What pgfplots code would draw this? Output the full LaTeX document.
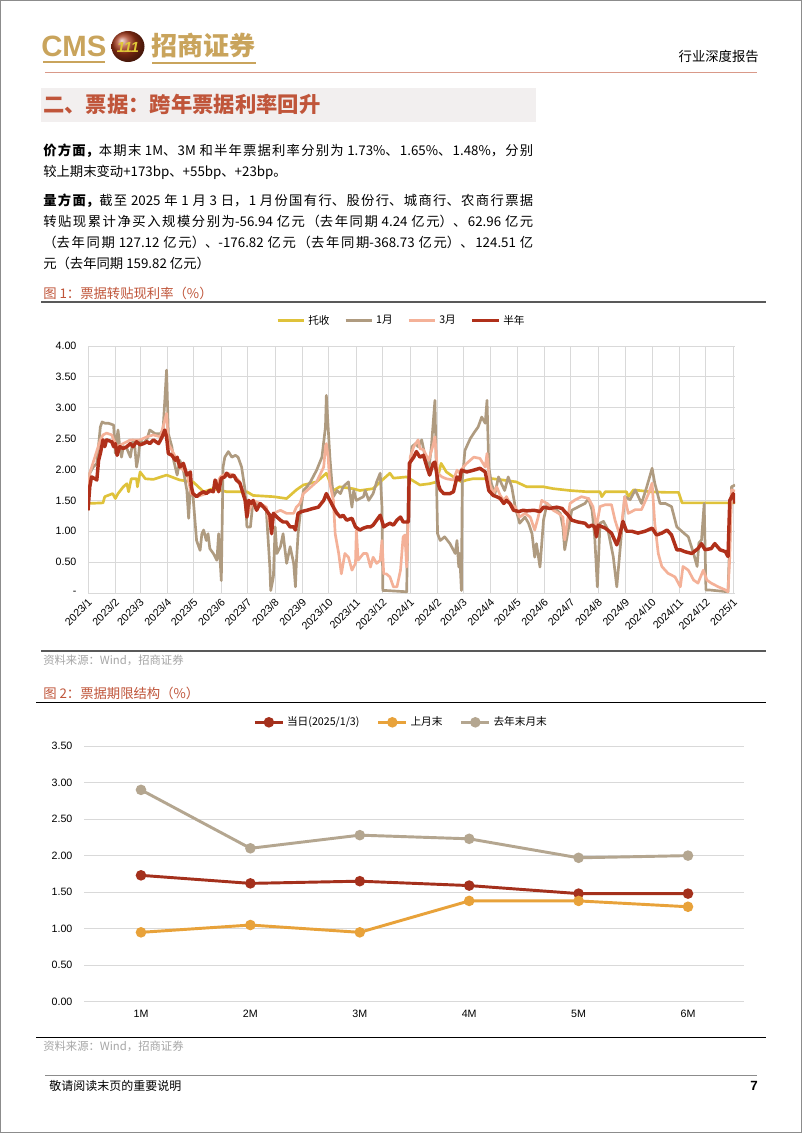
\documentclass[border=0pt]{standalone}
\usepackage{fontspec}
\setmainfont{Liberation Sans}
\newfontfamily\cjk{Noto Sans CJK SC}
\usepackage{pgfplots}
\pgfplotsset{compat=1.18}
\usepackage{pgfplotstable}

\definecolor{cGold}{HTML}{C9A45C}
\definecolor{cTitle}{HTML}{C0553A}
\definecolor{cBox}{HTML}{F2EFEF}
\definecolor{cYel}{HTML}{DFC23A}
\definecolor{cTan}{HTML}{AF9B80}
\definecolor{cSal}{HTML}{F4B198}
\definecolor{cRed}{HTML}{B0301A}
\definecolor{dRed}{HTML}{A4301C}
\definecolor{dOra}{HTML}{E8A23A}
\definecolor{dTan}{HTML}{B4A690}
\definecolor{cGrid}{HTML}{D9D9D9}
\definecolor{cLogo}{HTML}{C2401C}

% days since 2023-01-01, rate (%)
\pgfplotstableread[row sep=\\]{d v\\0 1.45\\17 1.46\\19 1.56\\28 1.61\\31 1.53\\34 1.61\\40 1.72\\44 1.77\\46 1.64\\49 1.85\\55 1.85\\56 1.72\\59 1.96\\65 1.85\\74 1.84\\89 1.91\\104 1.83\\119 1.80\\131 1.64\\142 1.69\\157 1.64\\180 1.64\\187 1.58\\210 1.56\\225 1.53\\236 1.67\\244 1.75\\259 1.80\\270 1.94\\278 1.66\\285 1.72\\300 1.69\\308 1.66\\323 1.69\\331 1.80\\342 1.94\\346 1.86\\361 1.88\\376 1.75\\387 1.77\\395 1.80\\400 2.10\\406 1.96\\414 1.88\\423 1.80\\429 1.83\\436 1.85\\459 1.85\\470 1.83\\485 1.80\\497 1.72\\516 1.72\\527 1.69\\546 1.66\\565 1.64\\580 1.64\\582 1.56\\586 1.64\\610 1.64\\612 1.56\\618 1.67\\637 1.64\\655 1.63\\669 1.63\\673 1.46\\733 1.46\\}\tYel

\pgfplotstableread[row sep=\\]{d v\\0 1.34\\2 1.94\\6 2.04\\10 2.10\\14 2.69\\16 2.77\\19 2.75\\23 2.75\\29 2.72\\31 2.26\\33 2.53\\34 2.64\\36 2.37\\38 2.20\\40 2.37\\44 2.34\\48 2.20\\51 2.48\\53 2.37\\55 2.04\\57 2.20\\59 2.48\\63 2.42\\67 2.50\\70 2.64\\76 2.58\\82 2.58\\85 2.64\\87 3.12\\89 3.61\\91 2.58\\95 2.37\\97 2.15\\101 1.91\\104 2.15\\108 1.99\\112 1.66\\114 1.21\\116 1.72\\119 1.56\\123 0.85\\127 0.69\\129 0.96\\131 1.02\\134 0.85\\136 0.96\\138 0.72\\142 0.64\\146 0.53\\148 0.96\\151 0.20\\153 2.04\\155 2.20\\159 2.29\\163 2.20\\167 2.23\\170 2.20\\174 2.04\\178 1.66\\180 1.07\\184 1.07\\187 1.50\\191 1.45\\199 1.39\\202 1.34\\206 0.42\\207 0.04\\210 0.26\\212 1.07\\214 0.64\\218 0.75\\221 0.96\\225 0.48\\229 0.75\\233 0.48\\235 0.10\\236 0.48\\238 0.96\\240 1.23\\244 1.66\\248 1.72\\252 1.80\\259 1.99\\265 2.20\\269 2.69\\270 3.20\\272 2.69\\274 2.20\\276 1.83\\278 1.56\\282 1.66\\286 1.61\\289 1.72\\295 1.80\\299 1.39\\301 1.66\\304 1.50\\308 1.53\\312 1.56\\314 1.66\\318 1.50\\323 1.61\\327 1.80\\331 1.94\\333 1.39\\334 0.04\\338 0.04\\361 0.02\\363 1.83\\367 2.37\\371 2.42\\374 2.37\\378 2.48\\382 2.20\\386 1.99\\389 2.37\\393 3.12\\396 0.96\\399 0.85\\404 0.91\\410 0.80\\416 0.64\\418 0.85\\420 0.42\\421 0.64\\423 0.04\\424 1.83\\427 2.31\\433 2.50\\438 2.61\\442 2.69\\446 2.85\\450 2.75\\452 3.12\\454 2.04\\457 1.77\\461 1.61\\465 1.88\\469 1.75\\472 1.66\\476 1.88\\480 1.72\\484 1.39\\489 1.13\\495 1.23\\499 1.13\\503 0.96\\506 0.58\\508 0.80\\512 0.42\\516 1.18\\520 1.45\\525 1.39\\531 1.34\\535 1.29\\538 1.07\\540 0.70\\548 1.34\\556 1.40\\563 1.45\\567 1.53\\571 1.34\\574 0.91\\577 0.10\\580 1.13\\584 1.16\\589 1.02\\595 0.59\\599 0.10\\603 0.75\\608 1.56\\614 1.51\\620 1.67\\627 1.45\\633 1.72\\639 2.02\\642 1.78\\648 1.45\\654 1.45\\661 1.40\\667 1.07\\671 1.02\\675 0.97\\680 0.91\\686 0.64\\690 0.43\\692 0.81\\695 0.86\\698 1.45\\700 0.05\\703 0.05\\725 0.02\\729 1.72\\733 1.75\\}\tTan

\pgfplotstableread[row sep=\\]{d v\\0 1.34\\2 1.94\\14 2.48\\17 2.56\\21 2.59\\27 2.56\\29 2.48\\33 2.37\\40 2.42\\48 2.48\\59 2.48\\67 2.53\\74 2.56\\82 2.53\\85 2.69\\89 2.91\\91 2.42\\97 2.26\\104 2.04\\112 1.94\\117 1.61\\123 1.56\\134 1.61\\142 1.66\\150 1.88\\157 1.94\\165 1.91\\172 1.80\\178 1.50\\180 1.23\\187 1.50\\195 1.45\\202 1.39\\208 0.96\\210 1.29\\218 1.34\\225 1.29\\233 1.29\\236 1.39\\240 1.45\\244 1.61\\248 1.66\\259 1.80\\267 2.04\\269 2.37\\270 2.42\\272 2.20\\274 1.77\\278 1.50\\280 0.96\\284 0.64\\287 0.31\\291 0.64\\295 0.58\\299 0.37\\303 0.48\\304 1.02\\306 0.53\\312 0.64\\316 0.64\\320 0.42\\323 0.58\\327 0.48\\331 0.53\\333 0.85\\335 0.31\\338 0.31\\342 0.26\\346 0.10\\350 0.10\\354 0.37\\357 0.91\\359 0.94\\361 0.42\\363 1.34\\365 2.20\\369 2.37\\374 2.48\\376 2.34\\380 2.32\\386 2.15\\391 2.40\\393 2.53\\396 1.94\\401 1.88\\406 1.85\\414 1.83\\418 1.99\\421 1.94\\425 2.04\\429 2.10\\437 2.20\\444 2.18\\450 2.04\\452 2.26\\455 1.77\\459 1.61\\463 1.72\\467 1.58\\471 1.50\\474 1.56\\478 1.45\\484 1.39\\489 1.23\\495 1.29\\501 1.23\\506 1.02\\510 1.23\\514 1.50\\520 1.45\\527 1.34\\533 1.29\\538 1.23\\540 0.86\\546 1.45\\552 1.51\\559 1.56\\567 1.53\\572 1.40\\576 1.07\\580 1.40\\586 1.43\\593 1.43\\597 1.18\\603 0.91\\608 1.56\\612 1.29\\620 1.35\\627 1.35\\635 1.61\\639 1.78\\642 1.13\\646 0.64\\650 0.43\\657 0.32\\665 0.26\\671 0.10\\674 0.43\\680 0.37\\686 0.21\\691 0.16\\697 0.37\\701 0.21\\706 0.16\\714 0.10\\722 0.05\\725 0.02\\727 0.59\\729 1.67\\733 1.65\\}\tSal

\pgfplotstableread[row sep=\\]{d v\\0 1.34\\2 1.72\\4 1.88\\8 1.85\\10 1.83\\12 2.15\\14 2.26\\17 2.48\\19 2.37\\21 2.48\\27 2.45\\29 2.37\\31 2.42\\33 2.23\\36 2.37\\40 2.34\\44 2.37\\48 2.42\\51 2.37\\55 2.45\\59 2.40\\63 2.42\\67 2.45\\70 2.42\\74 2.48\\80 2.42\\84 2.53\\87 2.64\\89 2.53\\91 2.26\\95 2.23\\99 2.15\\101 2.20\\104 2.04\\108 2.10\\112 1.91\\116 1.96\\117 1.72\\119 1.61\\123 1.56\\127 1.61\\131 1.64\\134 1.61\\138 1.66\\142 1.64\\144 1.83\\148 1.64\\151 1.86\\155 1.88\\157 1.94\\161 1.88\\165 1.91\\168 1.83\\172 1.78\\174 1.69\\178 1.50\\180 1.23\\182 1.50\\185 1.45\\187 1.50\\191 1.34\\195 1.45\\199 1.39\\202 1.34\\206 1.26\\208 0.96\\210 1.29\\214 1.23\\218 1.18\\221 1.15\\225 1.15\\229 1.07\\233 1.07\\235 1.02\\238 1.29\\242 1.32\\248 1.34\\255 1.37\\261 1.39\\267 1.50\\270 1.61\\274 1.50\\278 1.39\\282 1.29\\286 1.23\\289 1.26\\293 1.18\\299 1.21\\303 1.07\\308 1.02\\312 1.05\\316 1.07\\320 1.07\\323 1.10\\327 1.18\\331 1.26\\335 1.07\\338 1.10\\342 1.13\\346 1.10\\350 1.18\\354 1.23\\357 1.15\\363 1.15\\364 2.10\\369 2.20\\372 2.29\\376 2.20\\380 2.23\\384 2.04\\387 1.91\\391 2.10\\393 2.12\\397 1.75\\399 1.67\\403 1.61\\410 1.61\\414 1.64\\418 1.88\\421 1.83\\423 1.99\\429 1.96\\437 1.99\\444 2.02\\450 1.96\\454 1.66\\459 1.58\\463 1.56\\467 1.53\\471 1.45\\474 1.50\\478 1.45\\482 1.34\\488 1.32\\493 1.34\\497 1.33\\505 1.34\\512 1.32\\516 1.39\\523 1.37\\531 1.39\\537 1.37\\540 1.32\\544 1.26\\548 1.18\\555 1.15\\563 1.13\\567 1.07\\571 1.10\\574 1.07\\576 0.91\\578 1.10\\586 1.05\\593 0.97\\599 0.78\\601 0.86\\606 1.16\\610 1.00\\616 1.00\\623 0.97\\631 1.00\\639 1.05\\644 0.94\\650 0.97\\656 1.02\\661 0.94\\667 0.70\\671 0.70\\676 0.67\\684 0.64\\691 0.72\\695 0.80\\699 0.70\\706 0.72\\710 0.80\\716 0.70\\722 0.67\\725 0.59\\727 1.50\\731 1.61\\733 1.45\\}\tRed

\XeTeXlinebreaklocale "zh"
\XeTeXlinebreakskip=0pt plus 2pt

\begin{document}
\begin{tikzpicture}
\begin{scope}[x=0.75pt,y=-0.75pt]
\path[use as bounding box] (0,0) rectangle (802,1133);
\fill[white] (0,0) rectangle (802,1133);
\draw[black!45,line width=0.75pt] (0.5,0.5) rectangle (801.5,1132.5);
% header
\node[anchor=west,inner sep=0,text=cGold,font=\bfseries\fontsize{22}{22}\selectfont] at (41,46) {CMS};
\fill[cGold] (43,61) rectangle (105,62.5);
\shade[ball color=cLogo!85!black] (128,46.5) ellipse (16.5 and 15.5);
\node[text=cGold!60!yellow,font=\bfseries\itshape\fontsize{11}{11}\selectfont,inner sep=0] at (128,47) {111};
\node[anchor=west,inner sep=0,text=cGold,font=\cjk\bfseries\fontsize{19.5}{20}\selectfont] at (151,46) {招商证券};
\fill[cGold] (152,62) rectangle (256,63.5);
\node[anchor=east,inner sep=0,font=\cjk\fontsize{10}{12}\selectfont] at (759,56) {行业深度报告};
\draw[cTitle!60,line width=0.7pt] (45,72.3) -- (757,72.3);
% section title
\fill[cBox] (41.4,87.7) rectangle (535.5,121.7);
\node[anchor=west,inner sep=0,text=cTitle,font=\cjk\bfseries\fontsize{16}{16}\selectfont] at (43,104) {二、票据：跨年票据利率回升};
% paragraphs
\node[anchor=base west,inner sep=0,text width=367.5pt,align=justify,font=\cjk\fontsize{10}{16.3}\selectfont] at (43,155)
 {\textbf{价方面，}本期末 1M、3M 和半年票据利率分别为 1.73\%、1.65\%、1.48\%，分别\linebreak
  较上期末变动+173bp、+55bp、+23bp。};
\node[anchor=base west,inner sep=0,text width=367.5pt,align=justify,font=\cjk\fontsize{10}{15.9}\selectfont] at (43,205)
 {\textbf{量方面，}截至 2025 年 1 月 3 日，1 月份国有行、股份行、城商行、农商行票据\linebreak
  转贴现累计净买入规模分别为-56.94 亿元（去年同期 4.24 亿元）、62.96 亿元\linebreak
  （去年同期 127.12 亿元）、-176.82 亿元（去年同期-368.73 亿元）、124.51 亿\linebreak
  元（去年同期 159.82 亿元）};
% figure 1 frame
\node[anchor=west,inner sep=0,text=cTitle,font=\cjk\fontsize{10}{12}\selectfont] at (43,293) {图 1：票据转贴现利率（\%）};
\draw[black!65,line width=0.9pt] (41,302) -- (766,302);
\draw[black!65,line width=0.9pt] (41,651) -- (766,651);
\node[anchor=west,inner sep=0,text=black!35,font=\cjk\fontsize{8.5}{10}\selectfont] at (43,660) {资料来源：Wind，招商证券};
% figure 2 frame
\node[anchor=west,inner sep=0,text=cTitle,font=\cjk\fontsize{10}{12}\selectfont] at (43,693) {图 2：票据期限结构（\%）};
\draw[black,line width=0.9pt] (36,702.7) -- (766,702.7);
\draw[black,line width=0.9pt] (36,1037.7) -- (766,1037.7);
\node[anchor=west,inner sep=0,text=black!35,font=\cjk\fontsize{8.5}{10}\selectfont] at (43,1046) {资料来源：Wind，招商证券};
% footer
\draw[black!45,line width=0.75pt] (45,1075) -- (757,1075);
\node[anchor=west,inner sep=0,font=\cjk\fontsize{9}{10}\selectfont] at (49,1086) {敬请阅读末页的重要说明};
\node[anchor=east,inner sep=0,font=\bfseries\fontsize{10}{10}\selectfont] at (758,1086) {7};
\end{scope}

% ---------- chart 1 ----------
\begin{axis}[
  at={(66pt,-444.75pt)}, anchor=south west, scale only axis,
  width=485.3pt, height=185.25pt,
  xmin=0, xmax=733, ymin=0, ymax=4,
  xtick={0,31,59,90,120,151,181,212,243,273,304,334,365,396,425,456,486,517,547,578,609,639,670,700,731},
  xticklabels={2023/1,2023/2,2023/3,2023/4,2023/5,2023/6,2023/7,2023/8,2023/9,2023/10,2023/11,2023/12,2024/1,2024/2,2024/3,2024/4,2024/5,2024/6,2024/7,2024/8,2024/9,2024/10,2024/11,2024/12,2025/1},
  ytick={0,0.5,1,1.5,2,2.5,3,3.5,4},
  yticklabels={-,0.50,1.00,1.50,2.00,2.50,3.00,3.50,4.00},
  grid=major, major grid style={cGrid,line width=0.75pt},
  axis line style={draw=none}, major tick length=0pt,
  tick label style={font=\fontsize{8}{9}\selectfont},
  yticklabel style={inner sep=0pt,xshift=-8.5pt},
  xticklabel style={inner sep=0pt,yshift=-5.5pt,xshift=1.5pt,rotate=45,anchor=east},
  legend columns=4,
  legend style={at={(0.485,1.1025)},anchor=center,draw=none,fill=none,
    font=\cjk\fontsize{8}{9}\selectfont,
    /tikz/every even column/.append style={column sep=9pt}},
  legend image code/.code={\draw[#1] (0cm,0cm) -- (0.7cm,0cm);},
  line join=round,
]
\addplot[cYel,line width=2pt] table[x=d,y=v]{\tYel};
\addlegendentry{托收}
\addplot[cTan,line width=2pt] table[x=d,y=v]{\tTan};
\addlegendentry{1月}
\addplot[cSal,line width=2pt] table[x=d,y=v]{\tSal};
\addlegendentry{3月}
\addplot[cRed,line width=2.6pt] table[x=d,y=v]{\tRed};
\addlegendentry{半年}
\end{axis}

% ---------- chart 2 ----------
\begin{axis}[
  at={(63pt,-751.3pt)}, anchor=south west, scale only axis,
  width=495pt, height=191.8pt,
  xmin=0.479, xmax=6.512, ymin=0, ymax=3.5,
  xtick={1,2,3,4,5,6}, xticklabels={1M,2M,3M,4M,5M,6M},
  ytick={0,0.5,1,1.5,2,2.5,3,3.5},
  yticklabels={0.00,0.50,1.00,1.50,2.00,2.50,3.00,3.50},
  ymajorgrids, major grid style={cGrid,line width=0.75pt},
  axis line style={draw=none}, major tick length=0pt,
  tick label style={font=\fontsize{8}{9}\selectfont},
  yticklabel style={inner sep=0pt,xshift=-8.5pt},
  xticklabel style={inner sep=0pt,yshift=-6pt},
  legend columns=3,
  legend style={at={(0.481,1.0927)},anchor=center,draw=none,fill=none,
    font=\cjk\fontsize{8}{9}\selectfont,
    /tikz/every even column/.append style={column sep=11pt}},
  legend image code/.code={\draw[mark repeat=2,mark phase=2,#1] plot coordinates {(0cm,0cm) (0.37cm,0cm) (0.74cm,0cm)};},
  clip=false,
]
\addplot[dRed,line width=2.2pt,mark=*,mark size=2.8pt] coordinates {(1,1.73) (2,1.62) (3,1.65) (4,1.59) (5,1.48) (6,1.48)};
\addlegendentry{当日(2025/1/3)}
\addplot[dOra,line width=2.2pt,mark=*,mark size=2.8pt] coordinates {(1,0.95) (2,1.05) (3,0.95) (4,1.38) (5,1.38) (6,1.30)};
\addlegendentry{上月末}
\addplot[dTan,line width=2.2pt,mark=*,mark size=2.8pt] coordinates {(1,2.90) (2,2.10) (3,2.28) (4,2.23) (5,1.97) (6,2.00)};
\addlegendentry{去年末月末}
\end{axis}
\end{tikzpicture}
\end{document}
